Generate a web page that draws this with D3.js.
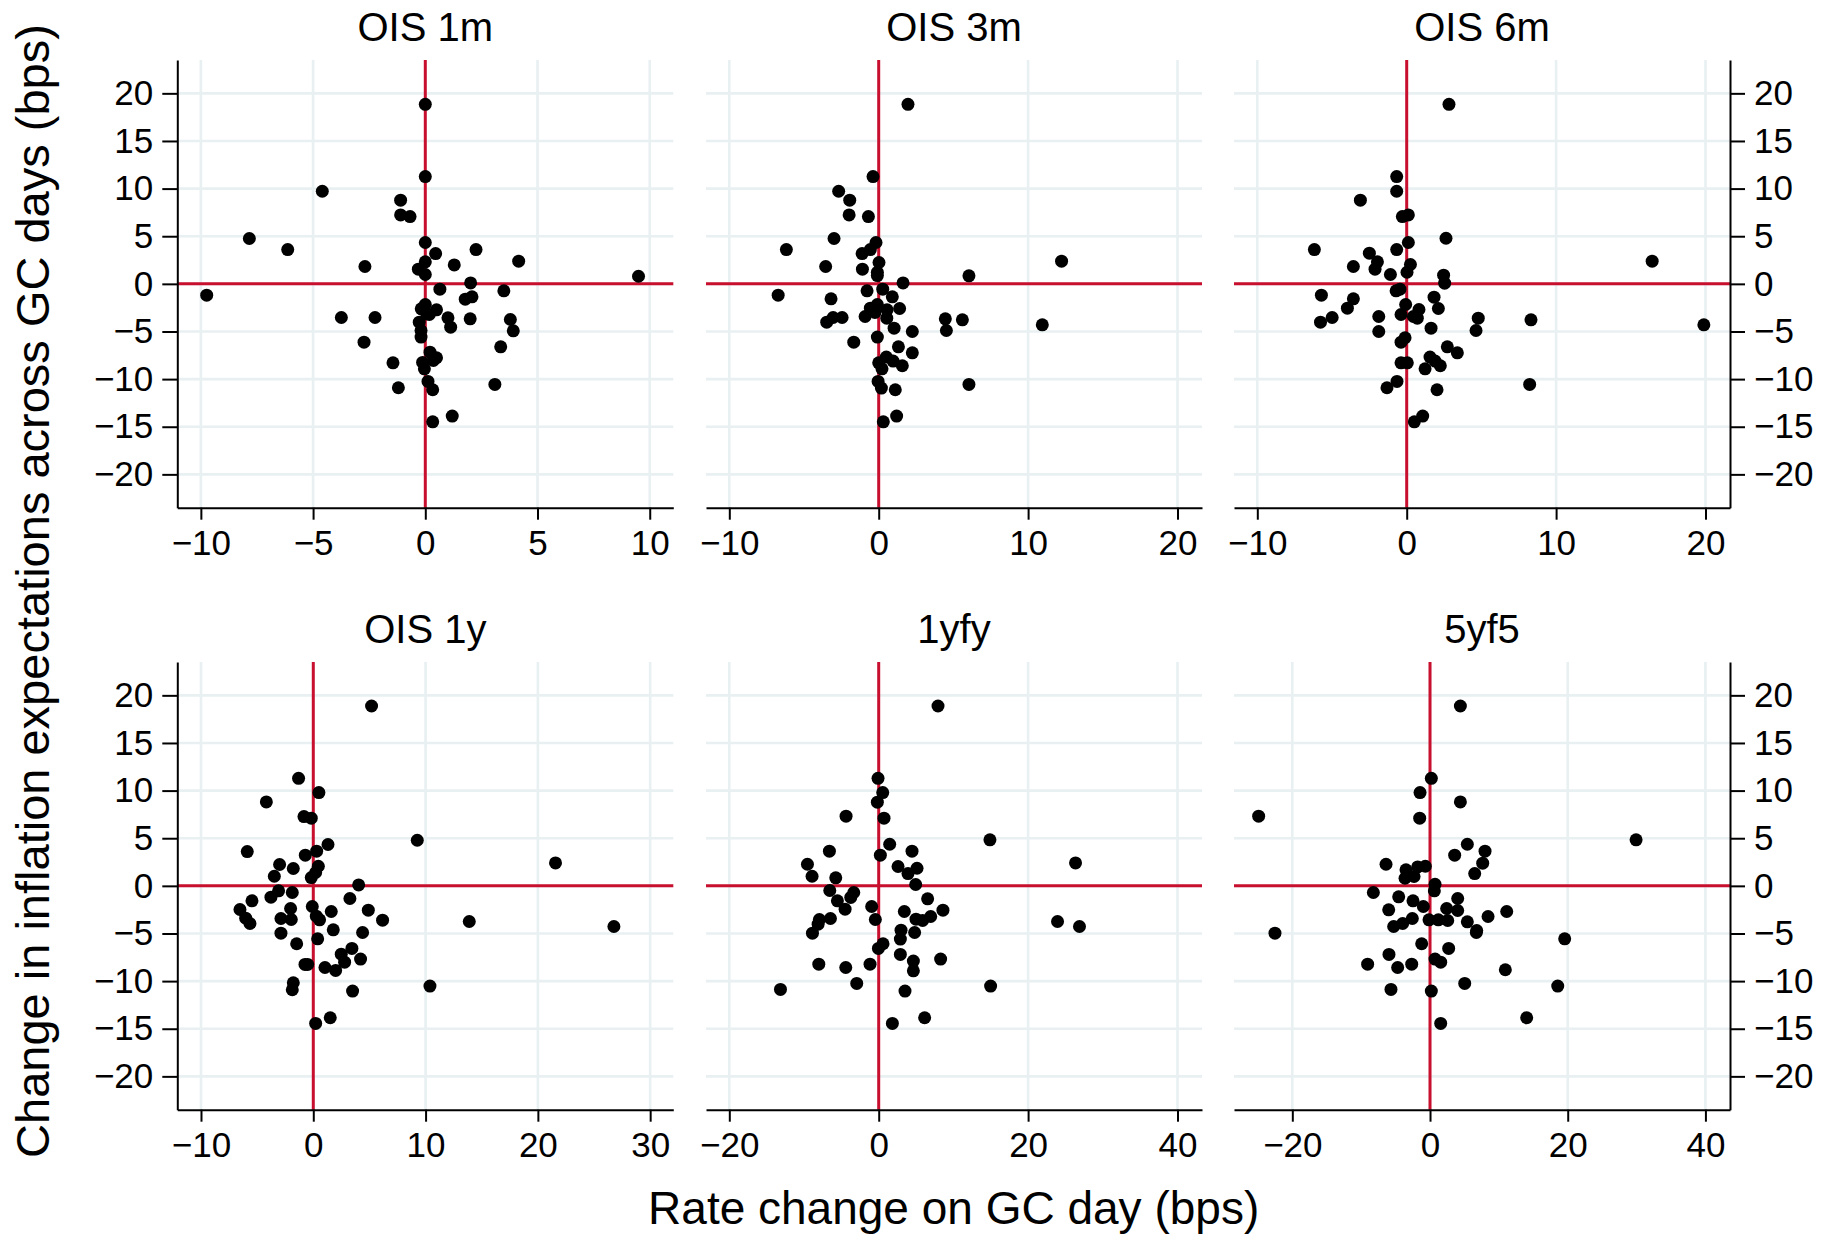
<!DOCTYPE html>
<html>
<head>
<meta charset="utf-8">
<script src="https://cdn.jsdelivr.net/npm/d3@7"></script>
<style>
  html, body { margin: 0; padding: 0; background: #fff; }
  svg { display: block; font-family: "Liberation Sans", Arial, Helvetica, sans-serif; }
</style>
</head>
<body>
<svg id="chart" width="1839" height="1238"></svg>
<script>
// Panel titles, in reading order
const panelTitles = ["OIS 1m", "OIS 3m", "OIS 6m", "OIS 1y", "1yfy", "5yf5"];

// Shared vertical axis
const yTicks = [-20, -15, -10, -5, 0, 5, 10, 15, 20];
const yRange = [-23.5, 23.5];

// Horizontal axis range and ticks of each panel
const xRanges = [[-11.05, 11.05], [-11.56, 21.64], [-11.56, 21.64], [-12.11, 32.06], [-23.12, 43.28], [-28.47, 43.57]];
const xTicks = [[-10, -5, 0, 5, 10], [-10, 0, 10, 20], [-10, 0, 10, 20], [-10, 0, 10, 20, 30], [-20, 0, 20, 40], [-20, 0, 20, 40]];

// [rate change on GC day, change in inflation expectations] per GC day
const ois1m = [[0,18.85],[0,11.26],[-4.59,9.72],[-1.10,8.78],[-1.10,7.24],[-0.68,7.06],[-7.84,4.76],[-6.13,3.60],[0,4.34],[0.46,3.18],[2.26,3.60],[4.16,2.38],[-2.69,1.82],[0,2.31],[-0.31,1.54],[0,0.98],[1.29,1.99],[9.50,0.80],[-9.74,-1.19],[2.02,0.10],[0.65,-0.56],[3.50,-0.73],[2.08,-1.36],[1.78,-1.61],[0,-2.17],[-0.18,-2.62],[0.50,-2.73],[0.18,-3.22],[-3.74,-3.53],[-2.24,-3.53],[1.01,-3.57],[2.00,-3.67],[3.79,-3.74],[1.13,-4.55],[3.92,-4.93],[-0.27,-4.02],[-0.19,-4.90],[-0.19,-5.59],[-2.73,-6.12],[3.36,-6.61],[0.21,-7.17],[0.50,-7.76],[-1.44,-8.29],[-0.12,-8.25],[-0.04,-8.92],[0.36,-8.04],[0.12,-10.24],[-1.20,-10.91],[0.33,-11.12],[3.10,-10.56],[1.20,-13.88],[0.33,-14.48],[0.06,-3.15]];

const ois3m = [[1.96,18.85],[-0.38,11.26],[-2.68,9.72],[-1.94,8.78],[-1.98,7.24],[-0.69,7.06],[-2.99,4.76],[-6.18,3.60],[-0.18,4.34],[-0.56,3.60],[-1.11,3.18],[12.24,2.38],[-3.55,1.82],[0.02,2.24],[-1.09,1.54],[-0.09,1.22],[-0.09,0.87],[6.04,0.84],[1.63,0.10],[-6.73,-1.19],[-0.78,-0.73],[0.27,-0.56],[-3.19,-1.57],[0.91,-1.36],[-0.09,-2.17],[-0.56,-2.55],[1.40,-2.59],[0.56,-2.73],[-0.25,-3.01],[-0.91,-3.43],[0.54,-3.60],[-3.48,-4.02],[-3.05,-3.53],[-2.45,-3.53],[4.46,-3.67],[5.60,-3.78],[4.53,-4.90],[10.95,-4.30],[1.03,-4.65],[2.25,-5.00],[-0.09,-5.59],[-1.67,-6.12],[1.32,-6.61],[2.25,-7.24],[0.51,-7.69],[0.96,-8.11],[0,-8.29],[0.22,-8.92],[1.58,-8.60],[-0.04,-10.24],[0.18,-10.94],[1.11,-11.12],[6.04,-10.56],[1.20,-13.88],[0.31,-14.48]];

const ois6m = [[2.83,18.85],[-0.67,11.26],[-0.67,9.72],[-3.10,8.78],[-0.29,7.06],[0.11,7.24],[2.63,4.79],[-6.18,3.60],[0.11,4.34],[-0.67,3.60],[-2.50,3.22],[-1.96,2.31],[-3.57,1.82],[-2.12,1.54],[0.25,2.03],[0.02,1.22],[16.43,2.38],[2.47,0.91],[2.54,0.07],[-1.09,0.98],[-5.71,-1.19],[-0.45,-0.56],[-0.71,-0.73],[-3.57,-1.57],[1.83,-1.40],[-3.97,-2.55],[-0.07,-2.17],[0.82,-2.69],[2.12,-2.59],[-4.99,-3.53],[-5.77,-4.02],[-1.87,-3.43],[-0.38,-3.22],[0.45,-3.43],[0.71,-3.60],[4.79,-3.60],[8.32,-3.78],[19.89,-4.30],[1.63,-4.65],[4.64,-4.90],[-1.87,-5.00],[-0.11,-5.66],[-0.38,-6.12],[2.72,-6.61],[3.39,-7.24],[1.56,-7.69],[1.90,-8.11],[-0.38,-8.29],[0.04,-8.29],[2.25,-8.60],[1.23,-8.92],[-0.65,-10.24],[-1.32,-10.91],[2.03,-11.12],[8.23,-10.56],[1.07,-13.88],[0.51,-14.48]];

const ois1y = [[5.19,18.88],[-1.31,11.29],[0.50,9.79],[-4.18,8.81],[-0.83,7.27],[-0.18,7.10],[9.26,4.79],[1.31,4.34],[-5.88,3.60],[0.30,3.64],[-0.71,3.22],[-3.00,2.24],[-1.78,1.82],[0.45,2.06],[0.21,1.40],[-0.18,0.87],[-3.47,1.01],[21.57,2.41],[4.04,0.10],[-5.46,-1.57],[-3.77,-1.19],[-3.09,-0.52],[-1.87,-0.70],[3.26,-1.33],[-6.53,-2.48],[-6.02,-3.39],[-5.64,-3.95],[-2.02,-2.38],[-2.88,-3.43],[-1.96,-3.53],[-0.09,-2.17],[0.27,-3.18],[0.56,-3.57],[1.60,-2.69],[4.90,-2.55],[6.17,-3.60],[13.89,-3.74],[26.77,-4.27],[-2.88,-4.97],[1.78,-4.62],[4.39,-4.90],[0.39,-5.56],[-1.48,-6.08],[3.44,-6.57],[2.49,-7.17],[4.21,-7.69],[2.79,-8.01],[-0.74,-8.25],[-0.50,-8.25],[1.04,-8.57],[1.99,-8.88],[-1.78,-10.17],[-1.87,-10.91],[3.50,-11.05],[10.39,-10.52],[1.51,-13.85],[0.21,-14.44]];

const fwd1y1y = [[7.94,18.88],[-0.09,11.29],[0.54,9.79],[-0.18,8.78],[-4.37,7.31],[0.71,7.10],[14.89,4.83],[1.47,4.37],[-6.60,3.64],[4.46,3.64],[0.22,3.22],[-9.54,2.27],[2.59,2.03],[5.13,1.85],[3.92,1.29],[26.35,2.41],[-8.92,1.01],[-5.75,0.84],[4.95,0.14],[-6.55,-0.49],[-3.34,-0.70],[-3.74,-1.22],[-5.53,-1.57],[6.55,-1.36],[-4.50,-2.45],[-0.94,-2.17],[3.43,-2.69],[8.60,-2.55],[-7.94,-3.53],[-6.46,-3.43],[-0.45,-3.53],[4.99,-3.50],[5.88,-3.64],[6.96,-3.22],[23.94,-3.74],[26.88,-4.27],[-8.11,-4.02],[-8.87,-4.97],[2.99,-4.65],[4.81,-4.90],[2.90,-5.59],[0.58,-6.08],[-0.04,-6.57],[2.90,-7.20],[8.29,-7.69],[4.64,-7.90],[-8.02,-8.22],[-4.41,-8.57],[-1.16,-8.22],[4.64,-8.92],[-13.15,-10.87],[-2.94,-10.24],[3.52,-11.05],[14.98,-10.52],[6.15,-13.85],[1.83,-14.44]];

const fwd5y5y = [[4.41,18.88],[0.19,11.29],[-1.45,9.79],[4.41,8.81],[-24.89,7.31],[-1.50,7.10],[29.93,4.83],[5.42,4.37],[7.99,3.64],[3.58,3.22],[7.65,2.38],[-6.39,2.27],[-3.49,1.68],[-1.79,1.99],[-0.68,2.06],[-3.63,0.80],[-2.32,0.98],[6.49,1.29],[0.73,0.17],[0.63,-0.52],[-8.23,-0.70],[-4.55,-1.15],[-2.47,-1.57],[4.02,-1.33],[-0.97,-2.17],[2.42,-2.38],[4.02,-2.59],[-6.00,-2.52],[11.14,-2.69],[8.43,-3.22],[-2.57,-3.43],[-3.97,-3.95],[-5.28,-4.27],[-0.15,-3.57],[1.21,-3.57],[2.57,-3.64],[5.42,-3.78],[-22.52,-4.97],[6.78,-4.69],[6.73,-4.90],[19.56,-5.56],[-1.21,-6.08],[2.71,-6.57],[-5.96,-7.20],[0.73,-7.69],[1.55,-8.01],[-9.06,-8.22],[-4.70,-8.57],[-2.66,-8.22],[10.94,-8.81],[5.04,-10.24],[-5.67,-10.87],[0.19,-11.05],[18.55,-10.52],[14.04,-13.85],[1.55,-14.44]];

const panelPoints = [ois1m, ois3m, ois6m, ois1y, fwd1y1y, fwd5y5y];

// ---- layout ----
const W = 1839, H = 1238;
const colLeft = [177.3, 706, 1234];
const colWidth = 496;
const rowTop = [60, 662];
const rowHeight = 447.7;

const RED = "#c8102e";
const GRID = "#e8f0f2";
const tickFont = 35;

const svg = d3.select("#chart");
svg.append("rect").attr("width", W).attr("height", H).attr("fill", "#fff");

panelTitles.forEach((title, i) => {
  const col = i % 3, row = Math.floor(i / 3);
  const x0 = colLeft[col], y0 = rowTop[row];

  const x = d3.scaleLinear().domain(xRanges[i]).range([0, colWidth]);
  const y = d3.scaleLinear().domain(yRange).range([rowHeight, 0]);

  const g = svg.append("g").attr("transform", `translate(${x0},${y0})`);

  // grid
  g.append("g").selectAll("line").data(xTicks[i]).join("line")
    .attr("x1", d => x(d)).attr("x2", d => x(d))
    .attr("y1", 0).attr("y2", rowHeight)
    .attr("stroke", GRID).attr("stroke-width", 2.6);
  g.append("g").selectAll("line").data(yTicks).join("line")
    .attr("x1", 0).attr("x2", colWidth)
    .attr("y1", d => y(d)).attr("y2", d => y(d))
    .attr("stroke", GRID).attr("stroke-width", 2.6);

  // zero reference lines
  g.append("line")
    .attr("x1", 0).attr("x2", colWidth)
    .attr("y1", y(0)).attr("y2", y(0))
    .attr("stroke", RED).attr("stroke-width", 3);
  g.append("line")
    .attr("x1", x(0)).attr("x2", x(0))
    .attr("y1", 0).attr("y2", rowHeight)
    .attr("stroke", RED).attr("stroke-width", 3);

  // points
  g.append("g").selectAll("circle").data(panelPoints[i]).join("circle")
    .attr("cx", d => x(d[0])).attr("cy", d => y(d[1]))
    .attr("r", 6.5).attr("fill", "#000");

  // x axis
  const xa = g.append("g").attr("transform", `translate(0,${rowHeight})`)
    .call(d3.axisBottom(x).tickValues(xTicks[i]).tickSize(12).tickSizeOuter(0).tickPadding(10));
  styleAxis(xa);

  // y axes on the outer columns
  if (col === 0) {
    const ya = g.append("g")
      .call(d3.axisLeft(y).tickValues(yTicks).tickSize(15).tickSizeOuter(0).tickPadding(9));
    styleAxis(ya);
  }
  if (col === 2) {
    const ya = g.append("g").attr("transform", `translate(${colWidth},0)`)
      .call(d3.axisRight(y).tickValues(yTicks).tickSize(15).tickSizeOuter(0).tickPadding(9));
    styleAxis(ya);
  }

  // panel title
  svg.append("text")
    .attr("x", x0 + colWidth / 2).attr("y", y0 - 19)
    .attr("text-anchor", "middle")
    .attr("font-size", 40).attr("fill", "#000")
    .text(title);
});

function styleAxis(a) {
  a.select(".domain").attr("stroke", "#000").attr("stroke-width", 2);
  a.selectAll(".tick line").attr("stroke", "#000").attr("stroke-width", 2);
  a.selectAll(".tick text")
    .attr("font-size", tickFont)
    .attr("font-family", "\"Liberation Sans\", Arial, Helvetica, sans-serif")
    .attr("fill", "#000");
}

// shared axis titles
svg.append("text")
  .attr("x", (colLeft[0] + colLeft[2] + colWidth) / 2).attr("y", 1224)
  .attr("text-anchor", "middle").attr("font-size", 46).attr("fill", "#000")
  .text("Rate change on GC day (bps)");

svg.append("text")
  .attr("transform", `translate(49,591) rotate(-90)`)
  .attr("text-anchor", "middle").attr("font-size", 47).attr("fill", "#000")
  .text("Change in inflation expectations across GC days (bps)");
</script>
</body>
</html>
